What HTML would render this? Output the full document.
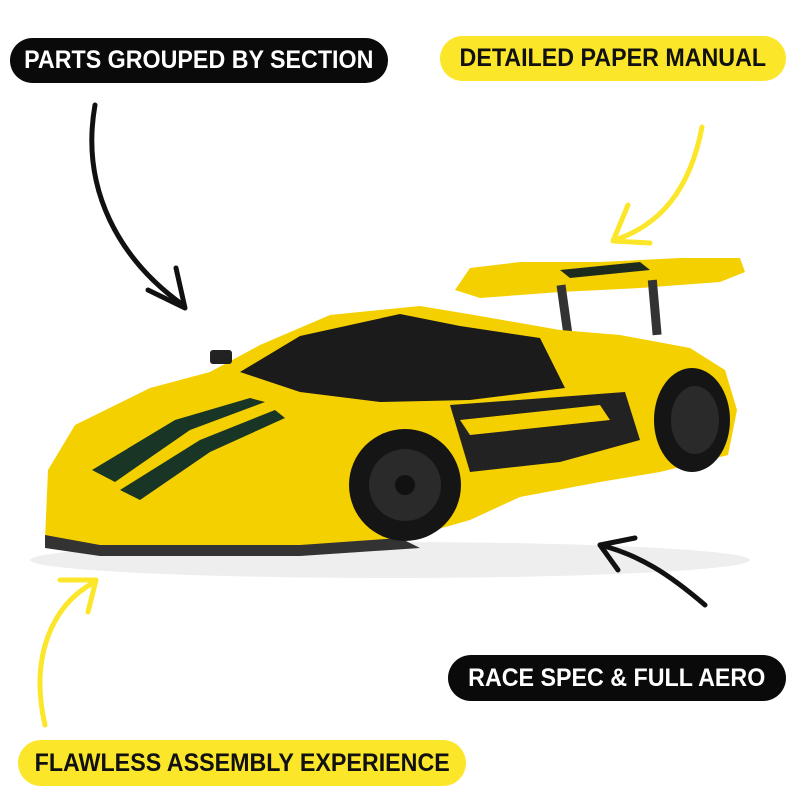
<!DOCTYPE html>
<html><head><meta charset="utf-8"><style>
html,body{margin:0;padding:0;background:#fff;}
.wrap{position:relative;width:800px;height:800px;overflow:hidden;background:#fff;font-family:"Liberation Sans",sans-serif;}
.pill{position:absolute;border-radius:23px;font-weight:bold;font-size:25px;display:flex;align-items:center;justify-content:center;white-space:nowrap;}
.pill span{display:inline-block;transform:scaleX(0.93);}
.blk{background:#0a0a0a;color:#fff;}
.yel{background:#fce62a;color:#111;}
svg{position:absolute;left:0;top:0;}
</style></head><body><div class="wrap">
<svg width="800" height="800" viewBox="0 0 800 800">
<ellipse cx="390" cy="560" rx="360" ry="18" fill="#eee"/>
<polygon points="455,290 470,268 520,262 600,262 680,258 740,258 745,272 720,282 640,288 560,292 480,298" fill="#f5d000"/>
<polygon points="560,270 640,262 650,270 570,278" fill="#1d2a1e"/>
<rect x="560" y="285" width="9" height="50" fill="#333" transform="rotate(-8 564 310)"/>
<rect x="650" y="280" width="9" height="55" fill="#333" transform="rotate(-5 654 305)"/>
<polygon points="45,540 48,470 75,425 150,388 210,372 260,345 330,315 420,306 480,316 560,330 620,335 690,348 725,370 737,410 728,455 660,472 600,482 520,497 470,520 400,540 300,546 200,548 100,548" fill="#f5d000"/>
<polygon points="240,372 300,336 400,314 460,326 540,338 565,388 470,400 380,402 300,392" fill="#1b1b1b"/>
<polygon points="450,405 625,392 640,440 560,462 470,472" fill="#222"/>
<polygon points="460,420 600,405 610,420 470,435" fill="#f5d000"/>
<polygon points="92,470 175,420 250,398 265,402 190,430 115,482" fill="#183526"/>
<polygon points="120,490 200,440 275,410 285,418 210,452 140,500" fill="#183526"/>
<polygon points="45,535 100,545 300,545 400,538 420,548 300,556 100,556 45,548" fill="#333"/>
<circle cx="405" cy="485" r="56" fill="#151515"/>
<circle cx="405" cy="485" r="36" fill="#2a2a2a"/>
<circle cx="405" cy="485" r="10" fill="#111"/>
<ellipse cx="692" cy="420" rx="38" ry="52" fill="#151515"/>
<ellipse cx="695" cy="420" rx="24" ry="34" fill="#2a2a2a"/>
<rect x="210" y="350" width="22" height="14" rx="3" fill="#222"/>
<path d="M95,105 C80,190 120,260 183,305" stroke="#111" stroke-width="5" fill="none" stroke-linecap="round"/>
<path d="M148,290 L185,308 L176,268" stroke="#111" stroke-width="5" fill="none" stroke-linecap="round" stroke-linejoin="round"/>
<path d="M702,127 C690,190 660,225 615,240" stroke="#fce62a" stroke-width="5" fill="none" stroke-linecap="round"/>
<path d="M628,205 L613,241 L650,243" stroke="#fce62a" stroke-width="5" fill="none" stroke-linecap="round" stroke-linejoin="round"/>
<path d="M705,605 C670,575 640,555 600,545" stroke="#111" stroke-width="5" fill="none" stroke-linecap="round"/>
<path d="M618,570 L600,545 L635,538" stroke="#111" stroke-width="5" fill="none" stroke-linecap="round" stroke-linejoin="round"/>
<path d="M45,725 C30,660 50,605 95,582" stroke="#fce62a" stroke-width="5" fill="none" stroke-linecap="round"/>
<path d="M60,580 L96,580 L88,612" stroke="#fce62a" stroke-width="5" fill="none" stroke-linecap="round" stroke-linejoin="round"/>
</svg>
<div class="pill blk" style="left:10px;top:38px;width:378px;height:45px;"><span>PARTS GROUPED BY SECTION</span></div>
<div class="pill yel" style="left:440px;top:36px;width:346px;height:45px;"><span>DETAILED PAPER MANUAL</span></div>
<div class="pill blk" style="left:448px;top:655px;width:338px;height:46px;"><span>RACE SPEC &amp; FULL AERO</span></div>
<div class="pill yel" style="left:18px;top:740px;width:448px;height:46px;"><span>FLAWLESS ASSEMBLY EXPERIENCE</span></div>
</div></body></html>
